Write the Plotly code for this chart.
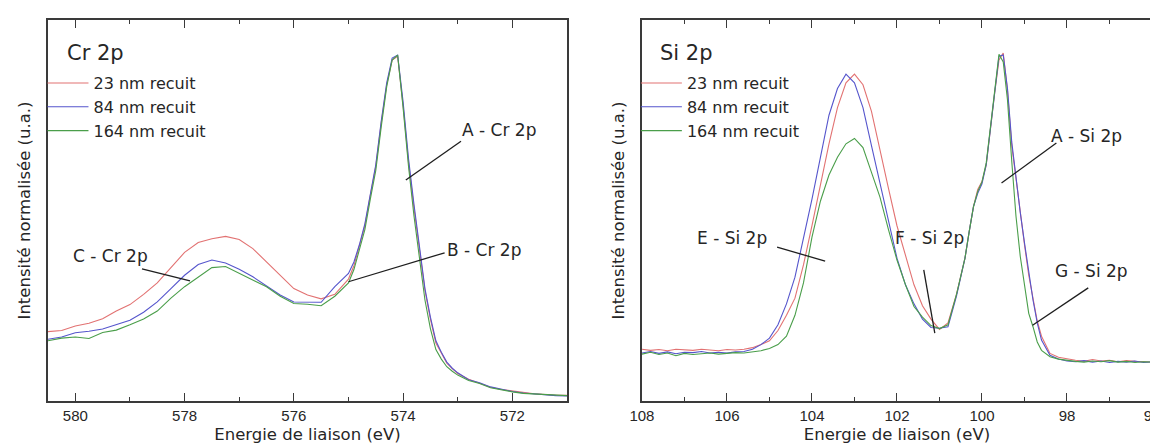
import plotly.graph_objects as go

# ---------------- Data: Cr 2p ----------------
X_CR = [580.5, 580.25, 580.0, 579.75, 579.5, 579.25, 579.0, 578.75, 578.5, 578.25, 578.0,
        577.75, 577.5, 577.25, 577.0, 576.75, 576.5, 576.25, 576.0, 575.75, 575.5, 575.25,
        575.0, 574.9, 574.8, 574.7, 574.6, 574.5, 574.4, 574.3, 574.2, 574.1, 574.0,
        573.9, 573.8, 573.7, 573.6, 573.5, 573.4, 573.3, 573.2, 573.1, 573.0,
        572.8, 572.6, 572.4, 572.2, 572.0, 571.8, 571.6, 571.4, 571.2, 571.0]

CR_23 = [18.2, 18.5, 19.7, 20.4, 21.6, 23.6, 25.3, 28.0, 31.0, 35.0, 39.0,
         41.6, 42.6, 43.2, 42.4, 40.0, 36.5, 33.0, 29.5, 27.8, 26.8, 28.0,
         32.0, 35.5, 40.5, 46.0, 54.0, 61.5, 73.0, 83.0, 89.5, 90.5, 77.5,
         62.5, 50.5, 39.5, 29.0, 21.5, 15.2, 12.6, 9.9, 8.5, 7.2,
         5.7, 4.7, 3.6, 3.0, 2.6, 2.2, 1.9, 1.7, 1.5, 1.5]

CR_84 = [16.2, 16.8, 17.9, 18.3, 18.9, 20.0, 21.2, 23.3, 26.0, 29.5, 33.0,
         35.8, 37.0, 36.2, 34.6, 32.6, 30.3, 27.8, 26.0, 26.0, 25.9, 30.0,
         33.5, 36.5, 41.0, 46.5, 54.5, 62.0, 73.5, 83.5, 90.0, 90.8, 78.5,
         63.5, 51.5, 40.0, 29.5, 22.0, 15.8, 12.8, 10.2, 8.6, 7.4,
         5.6, 4.8, 3.7, 3.0, 2.5, 2.1, 1.8, 1.6, 1.4, 1.3]

CR_164 = [15.8, 16.5, 16.8, 16.4, 18.0, 18.6, 20.0, 21.5, 23.6, 27.0, 30.0,
          32.5, 35.0, 35.3, 33.6, 31.8, 30.0, 27.5, 25.6, 25.4, 25.0, 27.5,
          31.0, 34.5, 39.5, 45.0, 53.0, 60.5, 72.0, 82.5, 89.5, 90.8, 77.0,
          61.5, 48.5, 37.0, 26.5, 19.0, 13.5, 11.0, 9.0, 7.8, 6.8,
          5.4, 4.6, 3.5, 2.9, 2.4, 2.0, 1.8, 1.6, 1.5, 1.4]

# ---------------- Data: Si 2p ----------------
X_SI = [108.0, 107.8, 107.6, 107.4, 107.2, 107.0, 106.8, 106.6, 106.4, 106.2, 106.0,
        105.8, 105.6, 105.4, 105.2, 105.0, 104.8, 104.6, 104.4, 104.2, 104.0,
        103.8, 103.6, 103.4, 103.2, 103.0, 102.8, 102.6, 102.4, 102.2, 102.0,
        101.8, 101.6, 101.4, 101.2, 101.0, 100.8, 100.6, 100.4, 100.3, 100.2,
        100.1, 100.0, 99.9, 99.8, 99.7, 99.6, 99.5, 99.4, 99.3, 99.2,
        99.1, 99.0, 98.9, 98.8, 98.7, 98.6, 98.4, 98.2, 98.0, 97.8,
        97.6, 97.4, 97.2, 97.0, 96.8, 96.6, 96.4, 96.2, 96.0]

SI_23 = [13.6, 13.3, 13.5, 13.2, 13.6, 13.4, 13.3, 13.6, 13.4, 13.2, 13.5,
         13.4, 13.6, 14.0, 14.8, 15.8, 18.5, 22.5, 27.0, 35.7, 46.0,
         57.0, 67.5, 77.0, 83.5, 85.8, 83.0, 76.0, 65.6, 55.8, 46.0,
         38.0, 30.5, 25.0, 21.5, 18.8, 20.5, 28.0, 37.5, 44.5, 51.0,
         55.5, 57.6, 62.0, 72.0, 81.0, 89.5, 91.3, 81.5, 67.0, 58.5,
         49.0, 41.0, 33.0, 26.5, 21.0, 17.0, 12.5, 11.5, 11.0, 10.7,
         10.4, 10.9, 10.5, 10.7, 10.3, 10.6, 10.4, 10.3, 10.2]

SI_84 = [12.6, 13.0, 12.5, 12.9, 12.4, 12.8, 12.7, 13.0, 12.6, 12.8, 12.6,
         12.9, 13.0, 13.6, 14.8, 16.5, 20.0, 25.5, 32.5, 42.5, 53.0,
         64.0, 75.0, 82.0, 85.8, 83.5, 77.0, 67.0, 57.0, 47.5, 37.5,
         30.5, 25.5, 21.5, 19.3, 19.1, 19.5, 27.5, 37.5, 44.5, 51.0,
         54.5, 57.0, 62.0, 71.5, 81.0, 90.5, 90.8, 82.0, 68.0, 58.0,
         49.5, 41.5, 33.5, 26.5, 20.5, 16.0, 12.0, 11.0, 10.5, 10.3,
         10.6, 10.2, 10.5, 10.1, 10.4, 10.2, 10.5, 10.1, 10.3]

SI_164 = [12.3, 12.8, 12.2, 12.6, 11.9, 12.5, 12.2, 12.4, 12.6, 12.3, 12.5,
          12.7, 12.6, 12.9, 13.2, 13.8, 14.8, 17.0, 22.5, 31.0, 43.0,
          52.5, 59.3, 64.0, 67.5, 68.9, 66.5, 60.0, 53.5, 45.0, 37.0,
          30.5, 24.8, 22.0, 19.8, 19.0, 20.0, 28.0, 37.5, 44.5, 51.0,
          55.0, 57.5, 62.5, 72.5, 82.5, 91.0, 89.0, 79.0, 63.0, 48.5,
          38.0, 30.0, 23.0, 19.5, 15.5, 13.3, 11.6, 11.0, 10.6, 10.4,
          10.2, 10.5, 10.3, 10.6, 10.2, 10.4, 10.1, 10.3, 10.2]

SERIES_NAMES = ["23 nm recuit", "84 nm recuit", "164 nm recuit"]
COLORS = ["#e27272", "#5555cc", "#4a9e4a"]

CR_TICKS = [580, 578, 576, 574, 572]
SI_TICKS = [108, 106, 104, 102, 100, 98, 96]

TICK_FONT = "Liberation Sans, Arial, sans-serif"
FONT = "DejaVu Sans, sans-serif"
TXT = "#262626"
FRAME = "#3a3a3a"

fig = go.Figure()

for name, ys, col in zip(SERIES_NAMES, [CR_23, CR_84, CR_164], COLORS):
    fig.add_trace(go.Scatter(x=X_CR, y=ys, mode="lines", name=name,
                             line=dict(color=col, width=1.1),
                             xaxis="x", yaxis="y", legend="legend"))
for name, ys, col in zip(SERIES_NAMES, [SI_23, SI_84, SI_164], COLORS):
    fig.add_trace(go.Scatter(x=X_SI, y=ys, mode="lines", name=name,
                             line=dict(color=col, width=1.1),
                             xaxis="x2", yaxis="y2", legend="legend2"))

axis_common = dict(showline=True, linecolor=FRAME, linewidth=1.6, mirror="ticks",
                   ticks="inside", ticklen=8, tickwidth=1.4, tickcolor=FRAME,
                   showgrid=False, zeroline=False, automargin=False,
                   ticklabeloverflow="allow",
                   tickfont=dict(family=TICK_FONT, size=15, color=TXT),
                   minor=dict(ticks="inside", ticklen=4, tickwidth=1.4, tickcolor=FRAME, dtick=1))

yaxis_common = dict(showline=True, linecolor=FRAME, linewidth=1.6, mirror=True,
                    ticks="", showticklabels=False, showgrid=False, zeroline=False,
                    automargin=False, range=[0, 100],
                    title=dict(text="Intensité normalisée (u.a.)",
                               font=dict(family=FONT, size=16.5, color=TXT), standoff=11))

xtitle = dict(text="Energie de liaison (eV)", font=dict(family=FONT, size=16.5, color=TXT), standoff=6)

legend_common = dict(yanchor="top", xanchor="left", bgcolor="rgba(0,0,0,0)",
                     font=dict(family=FONT, size=16, color=TXT), tracegroupgap=0,
                     itemwidth=41, borderwidth=0)

fig.update_layout(
    template="none",
    width=1158, height=447,
    margin=dict(l=40, r=14, t=12, b=54),
    paper_bgcolor="white", plot_bgcolor="white",
    showlegend=True,
    xaxis=dict(domain=[0, 0.4701], range=[580.5, 571.0], tickvals=CR_TICKS,
               title=xtitle, anchor="y", **axis_common),
    yaxis=dict(domain=[0, 1], anchor="x", **yaxis_common),
    xaxis2=dict(domain=[0.5380, 1.0], range=[108, 96], tickvals=SI_TICKS,
                title=xtitle, anchor="y2", **axis_common),
    yaxis2=dict(domain=[0, 1], anchor="x2", **yaxis_common),
    legend=dict(x=-0.005, y=0.879, **legend_common),
    legend2=dict(x=0.5325, y=0.879, **legend_common),
)

# panel titles
fig.add_annotation(text="Cr 2p", x=580.18, y=91.3, xref="x", yref="y", xanchor="left",
                   showarrow=False, font=dict(family=FONT, size=21, color=TXT))
fig.add_annotation(text="Si 2p", x=107.62, y=91.3, xref="x2", yref="y2", xanchor="left",
                   showarrow=False, font=dict(family=FONT, size=21, color=TXT))

# peak labels: (text, x, y, axis suffix, line start, line end)
LABELS = [
    ("A - Cr 2p", 572.25, 71.1, "", (572.94, 68.2), (573.95, 58.0)),
    ("B - Cr 2p", 572.52, 39.6, "", (573.24, 38.9), (575.0, 31.3)),
    ("C - Cr 2p", 579.35, 38.1, "", (578.78, 34.7), (577.9, 31.5)),
    ("A - Si 2p", 97.55, 69.6, "2", (98.25, 67.7), (99.54, 57.2)),
    ("E - Si 2p", 105.87, 42.8, "2", (104.82, 40.4), (103.69, 36.7)),
    ("F - Si 2p", 101.24, 42.8, "2", (101.37, 34.4), (101.11, 17.8)),
    ("G - Si 2p", 97.42, 34.1, "2", (97.50, 29.7), (98.81, 19.9)),
]
for text, tx, ty, ax, p0, p1 in LABELS:
    fig.add_annotation(text=text, x=tx, y=ty, xref="x" + ax, yref="y" + ax, showarrow=False,
                       font=dict(family=FONT, size=17, color=TXT))
    fig.add_shape(type="line", x0=p0[0], y0=p0[1], x1=p1[0], y1=p1[1],
                  xref="x" + ax, yref="y" + ax, line=dict(color="#1e1e1e", width=1.3))

fig.write_html("out.html")
